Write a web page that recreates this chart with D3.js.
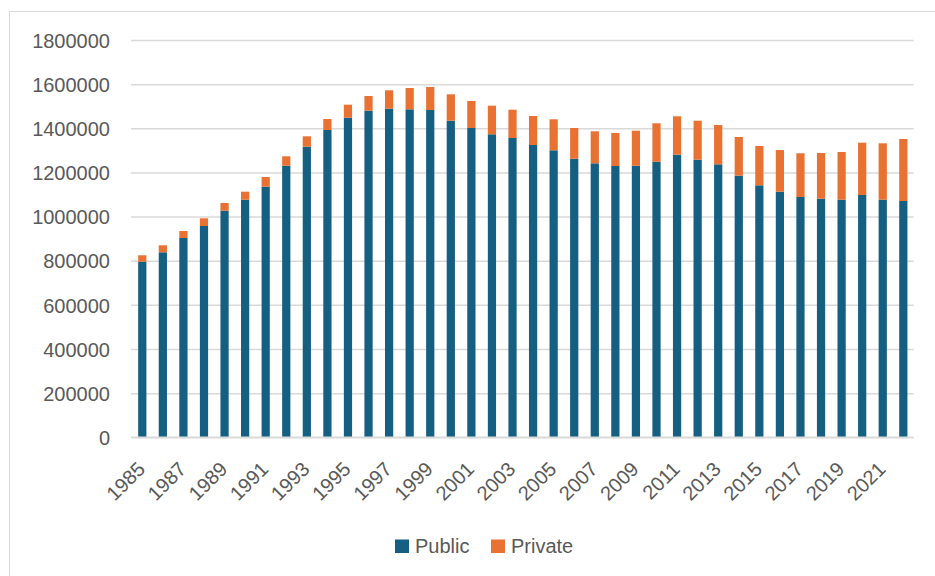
<!DOCTYPE html>
<html>
<head>
<meta charset="utf-8">
<script src="https://cdn.jsdelivr.net/npm/d3@7"></script>
<style>
  html, body { margin: 0; padding: 0; background: #fff; }
  svg { display: block; }
  text { font-family: "Liberation Sans", Arial, sans-serif; fill: #595959; }
</style>
</head>
<body>
<svg id="chart" width="935" height="576"></svg>
<script>
// Enrolment by sector, 1985–2022
const years = d3.range(1985, 2023);
const publicValues = [
  795600, 838200, 903000, 957300, 1026700, 1076500, 1135400, 1230500, 1316600, 1392200,
  1448000, 1479700, 1488800, 1486000, 1483000, 1434400, 1401300, 1372800, 1356000, 1324300,
  1300300, 1262200, 1241400, 1229100, 1230500, 1248600, 1280400, 1257700, 1236800, 1185200,
  1141700, 1112700, 1088700, 1081000, 1076500, 1097800, 1076500, 1070600
];
const privateValues = [
  29000, 31700, 31700, 34900, 34800, 36200, 43900, 42600, 47100, 49900,
  59000, 66600, 83300, 96600, 104100, 119600, 122400, 129600, 128200, 131400,
  140400, 139100, 145000, 149600, 158600, 174000, 173900, 176700, 178100, 175300,
  178100, 188900, 198000, 207100, 216100, 236900, 255500, 280900
];
const seriesNames = ["Public", "Private"];
const seriesColors = ["#156082", "#E97132"];
const yTicks = [0, 200000, 400000, 600000, 800000, 1000000, 1200000, 1400000, 1600000, 1800000];
const xTickLabels = d3.range(1985, 2022, 2);

const rows = years.map((y, i) => ({ year: y, Public: publicValues[i], Private: privateValues[i] }));
const stacked = d3.stack().keys(seriesNames)(rows);

const svg = d3.select("#chart");

// chart frame
svg.append("rect")
  .attr("x", 9.5).attr("y", 11.5)
  .attr("width", 940).attr("height", 580)
  .attr("fill", "none").attr("stroke", "#d9d9d9").attr("stroke-width", 1);

const plot = { left: 132, right: 913.6, top: 40, bottom: 437.3 };

const x = d3.scaleBand()
  .domain(years)
  .range([plot.left, plot.right])
  .paddingInner(0.6)
  .paddingOuter(0.3);

const y = d3.scaleLinear()
  .domain([0, 1800000])
  .range([plot.bottom, plot.top]);

// horizontal gridlines
svg.append("g")
  .attr("transform", `translate(${plot.left - 1},0)`)
  .call(d3.axisLeft(y).tickValues(yTicks).tickSize(-(plot.right - plot.left + 1)).tickFormat(""))
  .call(g => g.select(".domain").remove())
  .call(g => g.selectAll("line").attr("stroke", "#d9d9d9").attr("stroke-width", 1.5));

// stacked bars
svg.append("g")
  .selectAll("g")
  .data(stacked)
  .join("g")
  .attr("fill", (d, i) => seriesColors[i])
  .selectAll("rect")
  .data(d => d)
  .join("rect")
  .attr("x", d => x(d.data.year))
  .attr("width", x.bandwidth())
  .attr("y", d => y(d[1]))
  .attr("height", d => y(d[0]) - y(d[1]));

// y axis labels
svg.append("g")
  .attr("transform", `translate(${plot.left},0)`)
  .call(d3.axisLeft(y).tickValues(yTicks).tickSize(0).tickPadding(22).tickFormat(d3.format("d")))
  .call(g => g.select(".domain").remove())
  .call(g => g.selectAll("text")
    .attr("dy", "0.36em")
    .style("font-size", "20px")
    .style("font-family", "'Liberation Sans', Arial, sans-serif")
    .attr("fill", "#595959"));

// x axis with rotated year labels
svg.append("g")
  .attr("transform", `translate(0,${plot.bottom})`)
  .call(d3.axisBottom(x).tickValues(xTickLabels).tickSize(0).tickFormat(d3.format("d")))
  .call(g => g.select(".domain").attr("stroke", "#d9d9d9").attr("stroke-width", 1.5)
    .attr("d", `M${plot.left - 1},0H${plot.right}`))
  .call(g => g.selectAll("text")
    .attr("text-anchor", "end")
    .attr("dy", 0)
    .attr("x", 4)
    .attr("y", 33)
    .attr("transform", "rotate(-45 4 33)")
    .style("font-size", "20px")
    .style("font-family", "'Liberation Sans', Arial, sans-serif")
    .attr("fill", "#595959"));

// legend
const legendX = [395, 491];
const legend = svg.append("g");
seriesNames.forEach((name, i) => {
  legend.append("rect")
    .attr("x", legendX[i]).attr("y", 539.5)
    .attr("width", 14).attr("height", 13.5)
    .attr("fill", seriesColors[i]);
  legend.append("text")
    .attr("x", legendX[i] + 20).attr("y", 552.5)
    .style("font-size", "20px")
    .text(name);
});
</script>
</body>
</html>
